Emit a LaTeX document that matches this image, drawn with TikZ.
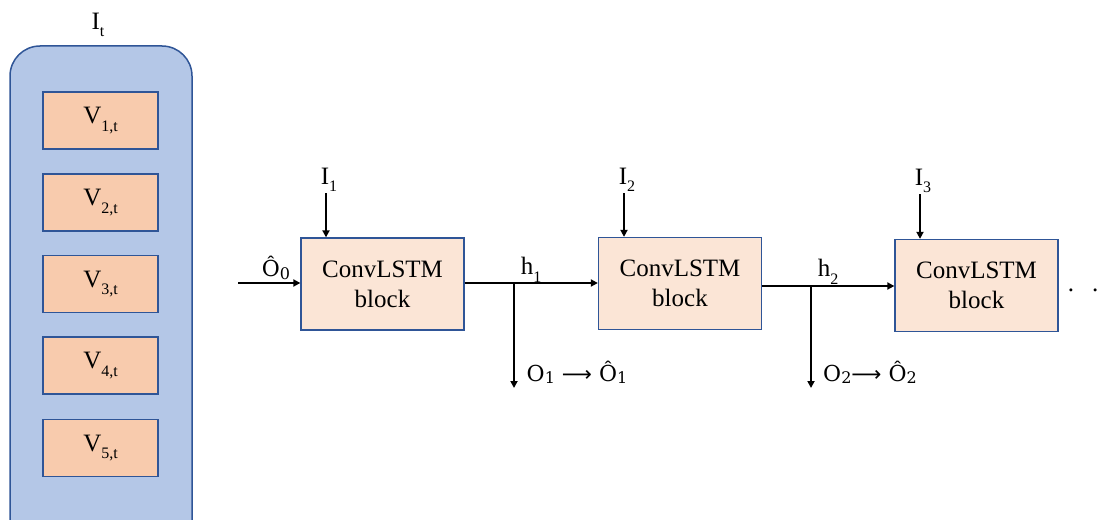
\documentclass[tikz,border=0pt]{standalone}
\usepackage{fontspec}
\setmainfont{Liberation Serif}
\newfontfamily\mathlike{DejaVu Serif}
\newfontfamily\symf{DejaVu Sans}
\usetikzlibrary{arrows.meta}
\definecolor{outerfill}{HTML}{B4C7E7}
\definecolor{outerdraw}{HTML}{2F5597}
\definecolor{vfill}{HTML}{F8CBAD}
\definecolor{vdraw}{HTML}{2F5597}
\definecolor{cfill}{HTML}{FBE5D6}
\newcommand{\lsub}[1]{\raisebox{-0.3em}{\fontsize{16}{16}\selectfont #1}}
\newcommand{\msub}[1]{\raisebox{-0.1em}{\fontsize{16}{16}\selectfont #1}}
\newcommand{\longarr}{{\symf\fontsize{21}{21}\selectfont ⟶}}
\begin{document}
\begin{tikzpicture}[x=1pt,y=-1pt,
  txt/.style={font=\fontsize{25}{30}\selectfont, inner sep=0pt},
  mtxt/.style={font=\mathlike\fontsize{22}{26}\selectfont, inner sep=0pt},
  vbox/.style={draw=vdraw, fill=vfill, line width=1.3pt, minimum width=115pt, minimum height=57pt, font=\fontsize{25}{30}\selectfont},
  cbox/.style={draw=vdraw, fill=cfill, line width=1.3pt, minimum width=163pt, minimum height=92pt, align=center, font=\fontsize{25}{30}\selectfont},
  arr/.style={line width=2.1pt, -{Triangle[length=7pt,width=7pt]}},
  ln/.style={line width=2.1pt}]
\useasboundingbox (0,0) rectangle (1115,519);
\clip (0,0) rectangle (1115,519);
% outer container
\draw[draw=outerdraw, fill=outerfill, line width=1.5pt, rounded corners=30pt] (10,46) rectangle (192,560);
\node[txt] (It) at (98,25) {I\lsub{t}};
\node[vbox] (v1) at (100.5,120.5) {V\lsub{1,t}};
\node[vbox] (v2) at (100.5,202.5) {V\lsub{2,t}};
\node[vbox] (v3) at (100.5,284) {V\lsub{3,t}};
\node[vbox] (v4) at (100.5,365.5) {V\lsub{4,t}};
\node[vbox] (v5) at (100.5,448) {V\lsub{5,t}};
% ConvLSTM blocks
\node[cbox] (c1) at (382.5,284) {ConvLSTM\\block};
\node[cbox] (c2) at (680,283.5) {ConvLSTM\\block};
\node[cbox] (c3) at (976.5,285.5) {ConvLSTM\\block};
% inputs
\node[txt] (i1) at (329,180) {I\lsub{1}};
\node[txt] (i2) at (627,180) {I\lsub{2}};
\node[txt] (i3) at (923,181) {I\lsub{3}};
\coordinate (i1s) at (326,193);
\coordinate (i2s) at (624,193);
\coordinate (i3s) at (920,194);
\draw[arr] (i1s) -- (i1s |- c1.north);
\draw[arr] (i2s) -- (i2s |- c2.north);
\draw[arr] (i3s) -- (i3s |- c3.north);
% O0 input
\coordinate (o0s) at (238,283);
\draw[arr] (o0s) -- (o0s -| c1.west);
\node[mtxt] (o0) at (276,268) {Ô\msub{0}};
% h1
\coordinate (b1) at (514,283);
\coordinate (b1e) at (514,388);
\draw[ln] (c1.east |- b1) -- (b1);
\draw[arr] (b1) -- (b1 -| c2.west);
\draw[arr] (b1) -- (b1e);
\node[txt] (h1) at (531,270) {h\lsub{1}};
\node[mtxt] (o1) at (577,372) {O\msub{1} \longarr\ Ô\msub{1}};
% h2
\coordinate (b2) at (811,286);
\coordinate (b2e) at (811,388);
\draw[ln] (c2.east |- b2) -- (b2);
\draw[arr] (b2) -- (b2 -| c3.west);
\draw[arr] (b2) -- (b2e);
\node[txt] (h2) at (828,272) {h\lsub{2}};
\node[mtxt] (o2) at (870,372) {O\msub{2}\longarr\ Ô\msub{2}};
% dots
\node[txt] (dots) at (1083,290) {.\hspace{18pt}.};
\end{tikzpicture}
\end{document}
